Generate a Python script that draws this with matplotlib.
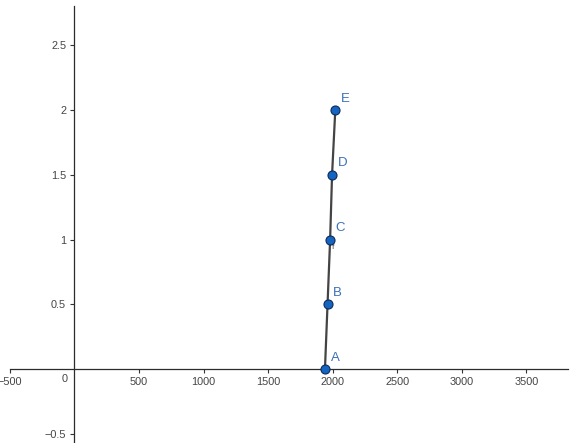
import matplotlib.pyplot as plt

# point data
names = ['A', 'B', 'C', 'D', 'E']
xs = [1940, 1960, 1980, 1995, 2020]
ys = [0, 0.5, 1, 1.5, 2]

xticks = [-500, 500, 1000, 1500, 2000, 2500, 3000, 3500]
yticks = [-0.5, 0.5, 1, 1.5, 2, 2.5]

plt.rcParams['font.family'] = ['Liberation Sans', 'DejaVu Sans']

fig = plt.figure(figsize=(5.7, 4.43), dpi=100)
ax = fig.add_axes([0, 0, 1, 1])
ax.set_xlim(-577, 3838)
ax.set_ylim(-0.571, 2.85)

for s in ['top', 'right']:
    ax.spines[s].set_visible(False)
ax.spines['left'].set_position(('data', 0))
ax.spines['bottom'].set_position(('data', 0))
ax.spines['bottom'].set_bounds(-500, 3820)
ax.spines['left'].set_bounds(-0.571, 2.8)
for s in ['left', 'bottom']:
    ax.spines[s].set_color('#2b2b2b')
    ax.spines[s].set_linewidth(0.9)

ax.set_xticks(xticks)
ax.set_xticklabels([f'{v}' if v >= 0 else '\u2212500' for v in xticks])
ax.set_yticks(yticks)
ax.set_yticklabels(['\u22120.5', '0.5', '1', '1.5', '2', '2.5'])
ax.tick_params(axis='both', colors='#333333', labelcolor='#444444', labelsize=7.8,
               length=3, width=0.8, direction='out', pad=3)
ax.text(-77, -0.075, '0', ha='center', va='center', fontsize=7.8, color='#444444')

# the line through the points, then the points
ax.plot(xs, ys, color='#444444', lw=1.6, zorder=3)
ax.plot(xs, ys, 'o', ms=6.5, mfc='#1565c0', mec='#0d2a5a', mew=0.8, zorder=4)
for n, x, y in zip(names, xs, ys):
    ax.annotate(n, (x, y), xytext=(4, 6), textcoords='offset points',
                color='#3b6fb6', fontsize=9.5)
ax.text(xs[2] + 10, ys[2] - 0.07, 'f', fontsize=6, color='#555555')

fig.savefig('out.png', dpi=100)
